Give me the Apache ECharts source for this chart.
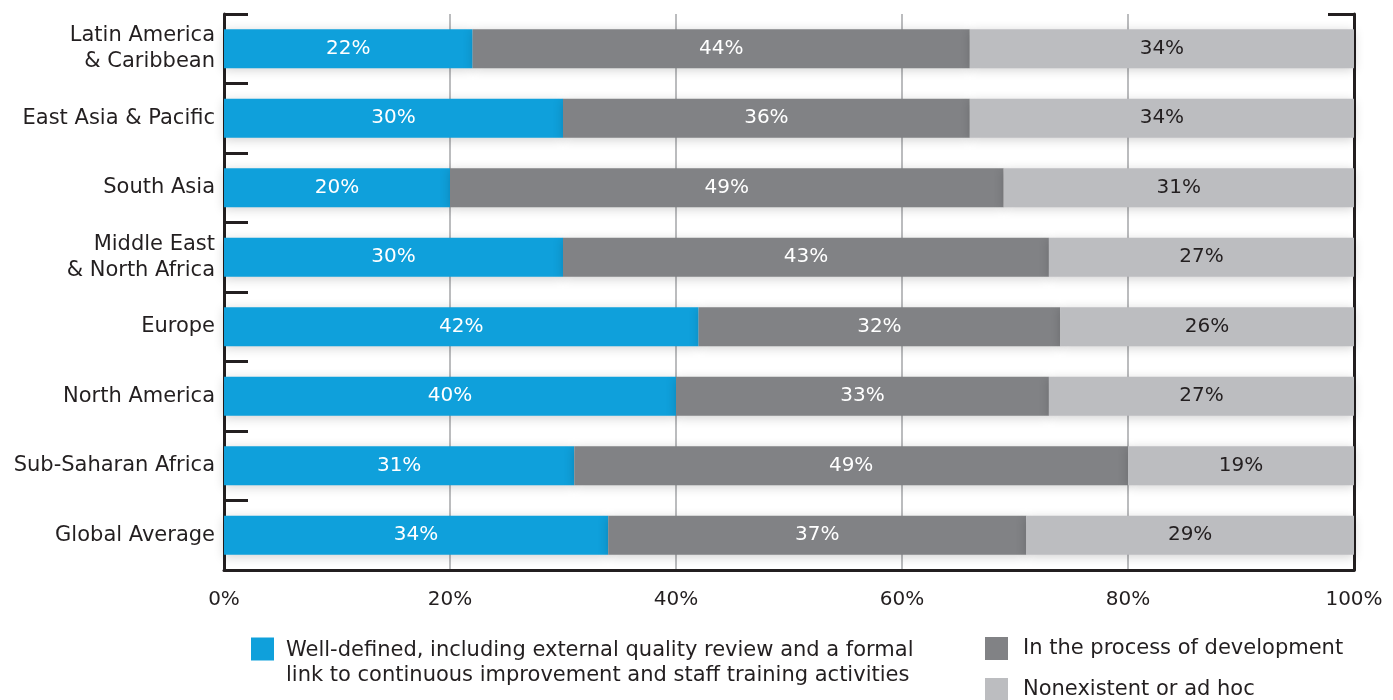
<!DOCTYPE html>
<html><head><meta charset="utf-8">
<script src="https://cdn.jsdelivr.net/npm/echarts@6/dist/echarts.min.js"></script>
<style>html,body{margin:0;padding:0;background:#fff}#c{width:1393px;height:700px}</style>
</head><body><div id="c"></div>
<script>
const categories = ['Latin America\n& Caribbean','East Asia & Pacific','South Asia','Middle East\n& North Africa','Europe','North America','Sub-Saharan Africa','Global Average'];
const wellDefined = [22,30,20,30,42,40,31,34];
const inProcess = [44,36,49,43,32,33,49,37];
const nonexistent = [34,34,31,27,26,27,20,29];
const nonexistentLabels = ['34%','34%','31%','27%','26%','27%','19%','29%'];
const xTicks = [0,20,40,60,80,100];
const seriesNames = ['Well-defined, including external quality review and a formal\nlink to continuous improvement and staff training activities','In the process of development','Nonexistent or ad hoc'];

const FONT = 'DejaVu Sans';
const TXT = '#231f20';
const chart = echarts.init(document.getElementById('c'));
const shadow = {shadowBlur: 10, shadowColor: 'rgba(0,0,0,0.18)', shadowOffsetY: 2};
function mk(name, data, color, labelColor, labels) {
  return {
    name, type: 'bar', stack: 's', data, barWidth: 39,
    itemStyle: Object.assign({color}, shadow),
    label: {show: true, position: 'inside', color: labelColor, fontSize: 20, fontFamily: FONT,
      formatter: p => labels ? labels[p.dataIndex] : p.value + '%'}
  };
}
const legendBase = {itemWidth: 23, itemHeight: 23, icon: 'rect', orient: 'vertical', padding: 0};
chart.setOption({
  animation: false,
  textStyle: {fontFamily: FONT},
  grid: {left: 224, right: 39, top: 14, bottom: 130},
  legend: [
    Object.assign({data: [seriesNames[0]], left: 251, top: 619,
      formatter: n => '{s| }\n' + n.split('\n').map(l => '{t|' + l + '}').join('\n'),
      textStyle: {fontSize: 21, color: TXT, fontFamily: FONT, padding: [0, 0, 0, 7],
        rich: {s: {fontSize: 10, lineHeight: 28}, t: {fontSize: 21, color: TXT, fontFamily: FONT, lineHeight: 25}}}}, legendBase),
    Object.assign({data: [seriesNames[1]], left: 985, top: 637,
      textStyle: {fontSize: 21, color: TXT, fontFamily: FONT, padding: [0, 0, 0, 10]}}, legendBase),
    Object.assign({data: [seriesNames[2]], left: 985, top: 678,
      textStyle: {fontSize: 21, color: TXT, fontFamily: FONT, padding: [0, 0, 0, 10]}}, legendBase)
  ],
  xAxis: {type: 'value', min: 0, max: 100, interval: 20,
    axisLabel: {formatter: v => xTicks.includes(v) ? v + '%' : '', fontSize: 20, color: TXT, margin: 20, fontFamily: FONT},
    axisLine: {show: true, lineStyle: {color: TXT, width: 3}},
    axisTick: {show: false},
    splitLine: {show: true, lineStyle: {color: '#bbbcbe', width: 2}}
  },
  yAxis: [
    {type: 'category', data: categories, inverse: true,
      axisLabel: {fontSize: 21, color: TXT, margin: 9, lineHeight: 26, padding: [6, 0, 0, 0], fontFamily: FONT},
      axisLine: {show: true, lineStyle: {color: TXT, width: 3}},
      axisTick: {show: true, inside: true, length: 24, lineStyle: {color: TXT, width: 3}},
      splitLine: {show: false}},
    {type: 'category', data: categories, inverse: true, position: 'right',
      axisLabel: {show: false},
      axisLine: {show: true, lineStyle: {color: TXT, width: 3}},
      axisTick: {show: true, inside: true, length: 26, interval: (i) => i === 0, lineStyle: {color: TXT, width: 3}},
      splitLine: {show: false}}
  ],
  series: [
    mk(seriesNames[0], wellDefined, '#0fa0db', '#ffffff'),
    mk(seriesNames[1], inProcess, '#818285', '#ffffff'),
    mk(seriesNames[2], nonexistent, '#bcbdc0', TXT, nonexistentLabels)
  ]
});
</script></body></html>
